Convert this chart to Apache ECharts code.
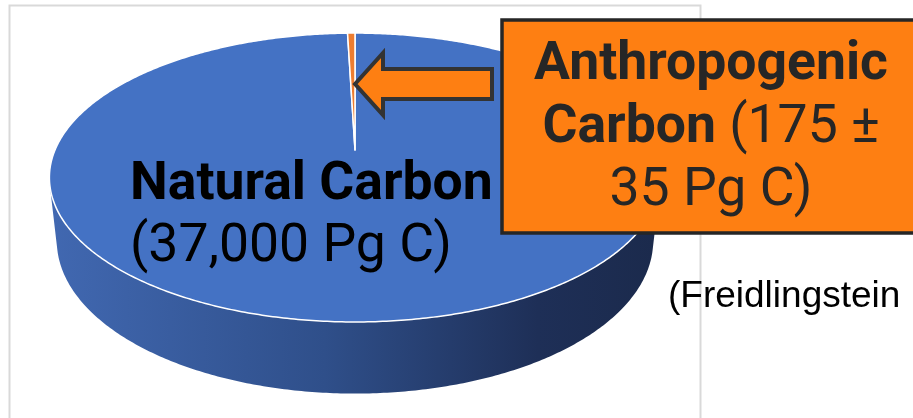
<!DOCTYPE html>
<html>
<head>
<meta charset="utf-8">
<script src="https://cdn.jsdelivr.net/npm/echarts@6/dist/echarts.min.js"></script>
<style>
  html, body { margin: 0; padding: 0; background: #fff; }
  #chart { width: 913px; height: 418px; }
</style>
</head>
<body>
<div id="chart"></div>
<script>
// Global carbon stocks (Pg C)
const categories = ['Natural Carbon', 'Anthropogenic Carbon'];
const stocks = [37000, 175];
const anthropogenicUncertainty = [35];
const sourceNote = ['(Freidlingstein'];

// Perspective camera for the tilted disc
const cam = { cx: 355, cy: 150, k: 300, sin: 0.464, cos: 0.886, D: 4.65, depth: 0.24 };

// a: angle clockwise from 12 o'clock, r: radius (0..1), h: height (0 = top face)
function project(a, r, h) {
  const X = r * Math.sin(a), Z = r * Math.cos(a);
  const vy = Z * cam.sin + h * cam.cos;
  const vd = -Z * cam.cos + h * cam.sin;
  const s = cam.D / (cam.D - vd);
  return [cam.cx + cam.k * X * s, cam.cy - cam.k * vy * s];
}

// visible part of the outer wall lies between the two silhouette generators
const silZ = -1 / (cam.D * cam.cos);
const silA = Math.acos(silZ), silB = 2 * Math.PI - silA;

const total = stocks.reduce((s, v) => s + v, 0);
function sliceAngles(i, value) {
  let before = 0;
  for (let j = 0; j < i; j++) before += stocks[j];
  const a0 = before / total * 2 * Math.PI;
  return [a0, a0 + value / total * 2 * Math.PI];
}

const sliceColors = ['#4472c4', '#ed7d31'];
const pieData = categories.map((name, i) => ({ name, value: stocks[i] }));

function arcPoints(a0, a1, h, pts) {
  const n = Math.max(2, Math.ceil((a1 - a0) / 0.01));
  for (let t = 0; t <= n; t++) pts.push(project(a0 + (a1 - a0) * t / n, 1, h));
  return pts;
}

function renderWall(params, api) {
  const [a0, a1] = sliceAngles(params.dataIndex, api.value(0));
  const lo = Math.max(a0, silA), hi = Math.min(a1, silB);
  if (hi <= lo) return null;
  const pts = arcPoints(lo, hi, 0, []);
  const bottom = arcPoints(lo, hi, -cam.depth, []).reverse();
  return {
    type: 'polygon',
    shape: { points: pts.concat(bottom) },
    style: {
      fill: new echarts.graphic.LinearGradient(0, 0, 1, 0, [
        { offset: 0, color: '#4168b1' },
        { offset: 0.45, color: '#2f4f8a' },
        { offset: 0.8, color: '#1e2f57' },
        { offset: 1, color: '#1b2a4c' }
      ]),
      stroke: null
    }
  };
}

function renderTop(params, api) {
  const [a0, a1] = sliceAngles(params.dataIndex, api.value(0));
  const pts = [project(0, 0, 0)];
  arcPoints(a0, a1, 0, pts);
  return {
    type: 'polygon',
    shape: { points: pts },
    style: { fill: sliceColors[params.dataIndex], stroke: '#ffffff', lineWidth: 1.5, lineJoin: 'round' }
  };
}

const fmt = v => v.toLocaleString('en-US');
const FS = 53.5;

const chart = echarts.init(document.getElementById('chart'), null, { renderer: 'canvas' });
chart.setOption({
  animation: false,
  backgroundColor: '#ffffff',
  series: [
    { type: 'custom', coordinateSystem: 'none', silent: true, z: 1, data: pieData, renderItem: renderWall },
    { type: 'custom', coordinateSystem: 'none', silent: true, z: 2, data: pieData, renderItem: renderTop }
  ],
  graphic: [
    { type: 'rect', z: 0, silent: true,
      shape: { x: 9.5, y: 5.5, width: 691, height: 440 },
      style: { fill: null, stroke: '#d9d9d9', lineWidth: 2 } },
    { type: 'text', z: 10, x: 130, y: 154.5, silent: true,
      style: {
        text: '{b|' + categories[0] + '}\n{r|(' + fmt(stocks[0]) + ' Pg C)}',
        verticalAlign: 'top',
        rich: {
          b: { fontFamily: 'Roboto', fontWeight: 'bold', fontSize: FS, lineHeight: 62, fill: '#000000' },
          r: { fontFamily: 'Roboto', fontWeight: 'normal', fontSize: FS, lineHeight: 62, fill: '#000000' }
        }
      } },
    { type: 'polygon', z: 10, silent: true,
      shape: { points: [[355, 84], [383, 53], [383, 69], [492, 69], [492, 99], [383, 99], [383, 115]] },
      style: { fill: '#fe7f12', stroke: '#333333', lineWidth: 4, lineJoin: 'miter' } },
    { type: 'rect', z: 10, silent: true,
      shape: { x: 502, y: 20, width: 440, height: 213 },
      style: { fill: '#fe7f12', stroke: '#262626', lineWidth: 3.5 } },
    { type: 'text', z: 11, x: 711, y: 34, silent: true,
      style: {
        text: '{b|Anthropogenic}\n{b|Carbon}{r| (' + fmt(stocks[1]) + ' \u00b1}\n{r|' + anthropogenicUncertainty[0] + ' Pg C)}',
        align: 'center',
        verticalAlign: 'top',
        rich: {
          b: { fontFamily: 'Roboto', fontWeight: 'bold', fontSize: FS, lineHeight: 63, fill: '#262626' },
          r: { fontFamily: 'Roboto', fontWeight: 'normal', fontSize: FS, lineHeight: 63, fill: '#262626' }
        }
      } },
    { type: 'text', z: 10, x: 668, y: 276.5, silent: true,
      style: {
        text: sourceNote[0],
        verticalAlign: 'top',
        font: 'normal 37px "Liberation Sans", Arial, sans-serif',
        lineHeight: 40,
        fill: '#000000'
      } }
  ]
});
</script>
</body>
</html>
